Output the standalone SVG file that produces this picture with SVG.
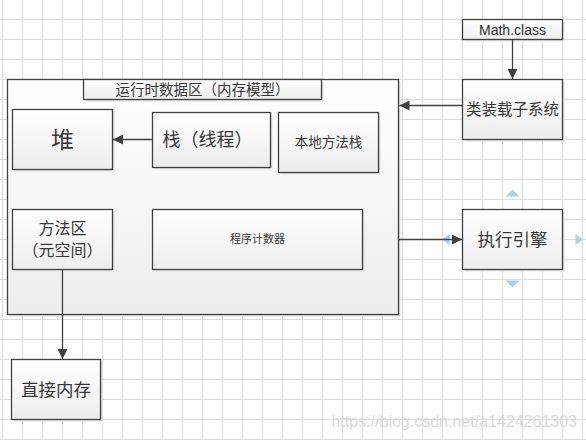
<svg xmlns="http://www.w3.org/2000/svg" width="586" height="440" viewBox="0 0 586 440">
<defs>
<pattern id="grid" x="2" y="19" width="20" height="20" patternUnits="userSpaceOnUse">
<path d="M0.5 0V20M0 0.5H20" fill="none" stroke="#dcdcdc" stroke-width="1"/>
</pattern>
<linearGradient id="fillg" x1="0" y1="0" x2="0" y2="1">
<stop offset="0" stop-color="#ffffff"/>
<stop offset="1" stop-color="#ededed"/>
</linearGradient>
<marker id="arr" viewBox="0 0 10 10" refX="10" refY="5" markerWidth="10" markerHeight="10" markerUnits="userSpaceOnUse" orient="auto">
<path d="M0 0L10 5L0 10z" fill="#404040"/>
</marker>
<style>
.box{fill:url(#fillg);stroke:#404040;stroke-width:1.3}
.sh{fill:#e2e2e2}
.cn{font-family:"Noto Sans CJK SC","Noto Sans",sans-serif;fill:#383838;text-anchor:middle}
.conn{stroke:#404040;stroke-width:1.3;fill:none;marker-end:url(#arr)}
.handle{fill:#a8d0f4}
</style>
</defs>
<rect width="586" height="440" fill="#ffffff"/>
<rect width="586" height="440" fill="url(#grid)"/>

<g id="runtime-area">
<rect class="sh" x="9.5" y="81.5" width="391" height="235"/>
<rect class="box" x="7.5" y="79.5" width="391" height="235"/>
<rect class="sh" x="85.5" y="81.5" width="238" height="20"/>
<rect class="box" x="83.5" y="79.5" width="238" height="20"/>
<text class="cn" x="202.5" y="95" font-size="14.5">运行时数据区（内存模型）</text>
</g>

<g id="heap">
<rect class="sh" x="14.5" y="111.5" width="100" height="60"/>
<rect class="box" x="12.5" y="109.5" width="100" height="60"/>
<text class="cn" x="62.5" y="148" font-size="23">堆</text>
</g>

<g id="stack">
<rect class="sh" x="154.5" y="114.5" width="118" height="55"/>
<rect class="box" x="152.5" y="112.5" width="118" height="55"/>
<text class="cn" x="207.5" y="146" font-size="18">栈（线程）</text>
</g>

<g id="native-stack">
<rect class="sh" x="280.5" y="114.5" width="100" height="60"/>
<rect class="box" x="278.5" y="112.5" width="100" height="60"/>
<text class="cn" x="328.5" y="147" font-size="13.5">本地方法栈</text>
</g>

<g id="method-area">
<rect class="sh" x="14.5" y="211.5" width="100" height="60"/>
<rect class="box" x="12.5" y="209.5" width="100" height="60"/>
<text class="cn" x="62.5" y="234" font-size="16">方法区</text>
<text class="cn" x="62.5" y="256" font-size="16">（元空间）</text>
</g>

<g id="pc-register">
<rect class="sh" x="154.5" y="211.5" width="210" height="60"/>
<rect class="box" x="152.5" y="209.5" width="210" height="60"/>
<text class="cn" x="257.5" y="243" font-size="11">程序计数器</text>
</g>

<g id="direct-memory">
<rect class="sh" x="13.5" y="361.5" width="89" height="60"/>
<rect class="box" x="11.5" y="359.5" width="89" height="60"/>
<text class="cn" x="56" y="395.5" font-size="17.5">直接内存</text>
</g>

<g id="math-class">
<rect class="sh" x="464.5" y="21.5" width="100" height="20"/>
<rect class="box" x="462.5" y="19.5" width="100" height="20"/>
<text x="512.5" y="34.5" font-size="14" font-family="'Liberation Sans',Arial,sans-serif" fill="#303030" text-anchor="middle">Math.class</text>
</g>

<g id="class-loader">
<rect class="sh" x="464.5" y="81.5" width="100" height="60"/>
<rect class="box" x="462.5" y="79.5" width="100" height="60"/>
<text class="cn" x="512.5" y="115" font-size="15.5">类装载子系统</text>
</g>

<g id="exec-engine">
<rect class="sh" x="464.5" y="211.5" width="100" height="60"/>
<rect class="box" x="462.5" y="209.5" width="100" height="60"/>
<text class="cn" x="512.5" y="245.5" font-size="17.5">执行引擎</text>
</g>

<g id="handles">
<path class="handle" d="M505.5 196.5L512.5 189.5L519.5 196.5z"/>
<path class="handle" d="M505.5 280.5L512.5 287.5L519.5 280.5z"/>
<path class="handle" d="M449.5 234L442 239.5L449.5 245z"/>
<path class="handle" d="M575.5 234L583 239.5L575.5 245z"/>
</g>

<g id="connectors">
<line class="conn" x1="152" y1="139.5" x2="113" y2="139.5"/>
<line class="conn" x1="512.5" y1="40" x2="512.5" y2="79"/>
<line class="conn" x1="462" y1="105.5" x2="399.5" y2="105.5"/>
<line class="conn" x1="399" y1="239.5" x2="462" y2="239.5"/>
<line class="conn" x1="62.5" y1="270" x2="62.5" y2="359"/>
</g>

<text x="577" y="427" font-size="16" font-family="'Liberation Sans',Arial,sans-serif" fill="#d9d9d9" text-anchor="end">https://blog.csdn.net/a1424261303</text>
</svg>
